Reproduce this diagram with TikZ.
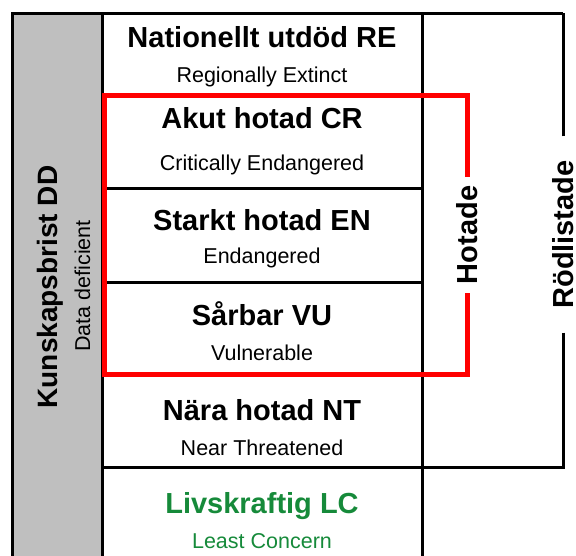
\documentclass[tikz,border=0pt]{standalone}
\usepackage{fontspec}
\setmainfont{Liberation Sans}
\definecolor{livgron}{RGB}{22,138,58}
\definecolor{ddgra}{RGB}{191,191,191}
\begin{document}
\begin{tikzpicture}[x=1pt, y=-1pt, line join=miter,
	titel/.style={font=\bfseries\fontsize{29}{30}\selectfont, anchor=base},
	under/.style={font=\fontsize{21.5}{23}\selectfont, anchor=base},
	svart/.style={line width=3pt},
	rodram/.style={draw=red, line width=5pt}]
	\useasboundingbox (0,0) rectangle (576,555);
	% Kolumnen för kunskapsbrist
	\fill[ddgra] (12,13) rectangle (102,556);
	% Rutnät
	\draw[svart] (12,556) -- (12,13) -- (563,13);
	\draw[svart] (102,13) -- (102,556);
	\draw[svart] (422,13) -- (422,556);
	\foreach \y in {94,188,282,374} \draw[svart] (102,\y) -- (422,\y);
	% Kategorier
	\node[titel] (RE) at (262,47) {Nationellt utdöd RE};
	\node[under] (REen) at (262,82) {Regionally Extinct};
	\node[titel] (CR) at (262,128) {Akut hotad CR};
	\node[under] (CRen) at (262,170) {Critically Endangered};
	\node[titel] (EN) at (262,230) {Starkt hotad EN};
	\node[under] (ENen) at (262,263) {Endangered};
	\node[titel] (VU) at (262,325) {Sårbar VU};
	\node[under] (VUen) at (262,360) {Vulnerable};
	\node[titel] (NT) at (262,420) {Nära hotad NT};
	\node[under] (NTen) at (262,455) {Near Threatened};
	\node[titel, livgron] (LC) at (262,513) {Livskraftig LC};
	\node[under, livgron] (LCen) at (262,548) {Least Concern};
	% DD på sidan
	\node[titel, font=\bfseries\fontsize{28}{30}\selectfont, rotate=90] (DD) at (57,287) {Kunskapsbrist DD};
	\node[under, rotate=90] (DDen) at (90,286) {Data deficient};
	% Hakparenteser
	\node[font=\bfseries\fontsize{29}{30}\selectfont, rotate=90, inner xsep=9pt, inner ysep=0pt, outer sep=0pt] (hotade) at (467,235) {Hotade};
	\node[font=\bfseries\fontsize{29}{30}\selectfont, rotate=90, inner xsep=24pt, inner ysep=0pt, outer sep=0pt] (rodlistade) at (563,234.5) {Rödlistade};
	\draw[svart] (rodlistade.east) -- (563,13);
	\draw[svart] (rodlistade.west) -- (563,467) -- (102,467);
	\draw[rodram] (hotade.east) -- (467,95) -- (104,95) -- (104,374) -- (467,374) -- (hotade.west);
\end{tikzpicture}
\end{document}
